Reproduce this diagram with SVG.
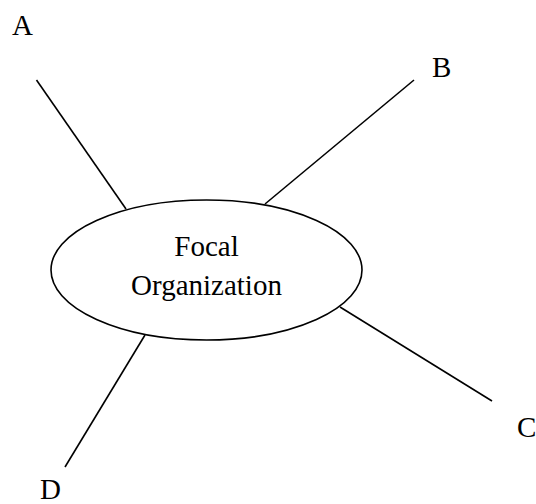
<svg xmlns="http://www.w3.org/2000/svg" width="536" height="504" viewBox="0 0 536 504">
<style>
.t{font-family:"Liberation Serif","Times New Roman",serif;font-size:29px;fill:#000}
.l{stroke:#000;stroke-width:1.6;fill:none}
</style>
<rect width="536" height="504" fill="#fff"/>
<g id="connectors">
<line class="l" x1="36.5" y1="80" x2="126" y2="209"/>
<line class="l" x1="414" y1="80" x2="265" y2="204"/>
<line class="l" x1="340" y1="307" x2="492" y2="401"/>
<line class="l" x1="145" y1="335" x2="65" y2="467"/>
</g>
<g id="focal">
<ellipse class="l" cx="206.5" cy="270" rx="155.5" ry="70" stroke-width="2"/>
<text class="t" x="206.5" y="256" text-anchor="middle">Focal</text>
<text class="t" x="206.5" y="295" text-anchor="middle">Organization</text>
</g>
<g id="A"><text class="t" x="12" y="35">A</text></g>
<g id="B"><text class="t" x="432" y="77">B</text></g>
<g id="C"><text class="t" x="517" y="437">C</text></g>
<g id="D"><text class="t" x="40" y="499">D</text></g>
</svg>
